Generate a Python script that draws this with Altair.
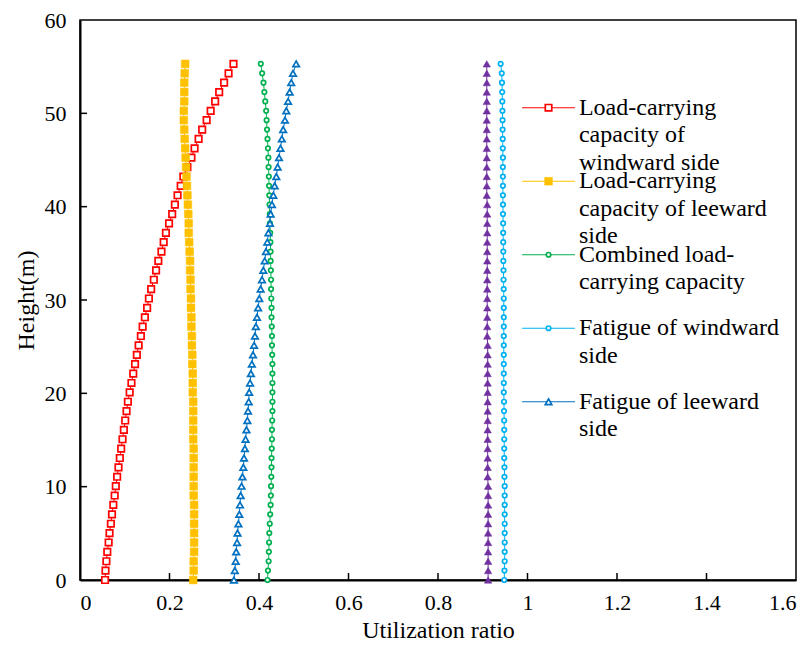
import altair as alt
import pandas as pd

# Heights of the sample points (m)
HEIGHTS = [0.0, 1.01, 2.01, 3.02, 4.02, 5.03, 6.03, 7.04, 8.04, 9.05, 10.05, 11.06, 12.07, 13.07,
           14.08, 15.08, 16.09, 17.09, 18.10, 19.10, 20.11, 21.11, 22.12, 23.13, 24.13, 25.14,
           26.14, 27.15, 28.15, 29.16, 30.16, 31.17, 32.17, 33.18, 34.19, 35.19, 36.20, 37.20,
           38.21, 39.21, 40.22, 41.22, 42.23, 43.23, 44.24, 45.25, 46.25, 47.26, 48.26, 49.27,
           50.27, 51.28, 52.28, 53.29, 54.29, 55.30]

WINDWARD_LOAD = [0.056, 0.057, 0.059, 0.061, 0.064, 0.066, 0.069, 0.0715, 0.0745, 0.0775, 0.080,
                 0.083, 0.086, 0.089, 0.092, 0.095, 0.098, 0.101, 0.104, 0.107, 0.111, 0.115,
                 0.119, 0.123, 0.127, 0.131, 0.136, 0.140, 0.145, 0.150, 0.154, 0.159, 0.165,
                 0.170, 0.175, 0.182, 0.187, 0.192, 0.199, 0.206, 0.212, 0.218, 0.225, 0.231,
                 0.240, 0.249, 0.256, 0.265, 0.273, 0.283, 0.292, 0.302, 0.311, 0.322, 0.332, 0.343]

LEEWARD_LOAD = [0.253, 0.254, 0.254, 0.255, 0.255, 0.255, 0.255, 0.255, 0.255, 0.254, 0.254,
                0.254, 0.254, 0.254, 0.254, 0.253, 0.253, 0.253, 0.253, 0.253, 0.252, 0.252,
                0.252, 0.251, 0.251, 0.250, 0.250, 0.249, 0.249, 0.248, 0.248, 0.247, 0.247,
                0.246, 0.246, 0.245, 0.244, 0.243, 0.243, 0.242, 0.241, 0.240, 0.239, 0.238,
                0.237, 0.236, 0.235, 0.234, 0.233, 0.232, 0.232, 0.233, 0.233, 0.233, 0.234, 0.235]

COMBINED_LOAD = [0.419, 0.420, 0.4215, 0.422, 0.4225, 0.423, 0.424, 0.425, 0.426, 0.4265, 0.427,
                 0.4275, 0.428, 0.428, 0.4285, 0.429, 0.429, 0.4295, 0.430, 0.430, 0.430, 0.430,
                 0.430, 0.430, 0.4295, 0.429, 0.429, 0.4285, 0.428, 0.428, 0.4275, 0.427, 0.427,
                 0.4265, 0.426, 0.426, 0.4255, 0.425, 0.4245, 0.424, 0.4235, 0.423, 0.4225, 0.422,
                 0.4215, 0.421, 0.420, 0.419, 0.418, 0.417, 0.416, 0.414, 0.412, 0.410, 0.407, 0.404]

FATIGUE_WINDWARD = [0.948, 0.9485, 0.949, 0.949, 0.949, 0.949, 0.949, 0.949, 0.949, 0.949, 0.949,
                    0.9485, 0.9485, 0.948, 0.948, 0.948, 0.948, 0.9478, 0.9475, 0.9475, 0.947,
                    0.947, 0.947, 0.947, 0.947, 0.947, 0.947, 0.947, 0.947, 0.947, 0.947, 0.9468,
                    0.9465, 0.9463, 0.946, 0.946, 0.9458, 0.9456, 0.9455, 0.9453, 0.9452, 0.945,
                    0.945, 0.945, 0.945, 0.945, 0.9448, 0.9446, 0.9444, 0.9442, 0.944, 0.9438,
                    0.9435, 0.943, 0.9425, 0.940]

FATIGUE_LEEWARD = [0.344, 0.346, 0.348, 0.349, 0.351, 0.352, 0.354, 0.356, 0.3575, 0.359, 0.361,
                   0.363, 0.365, 0.3665, 0.3685, 0.370, 0.372, 0.374, 0.3755, 0.377, 0.378, 0.380,
                   0.382, 0.384, 0.3866, 0.389, 0.391, 0.393, 0.3955, 0.398, 0.4007, 0.4037,
                   0.4067, 0.4097, 0.4127, 0.4156, 0.4186, 0.421, 0.4245, 0.426, 0.429, 0.432,
                   0.435, 0.4387, 0.4417, 0.4447, 0.448, 0.451, 0.454, 0.458, 0.461, 0.465,
                   0.4685, 0.472, 0.476, 0.483]

UNLABELLED_SERIES = [0.912, 0.912, 0.912, 0.912, 0.912, 0.912, 0.912, 0.912, 0.912, 0.912, 0.912,
                     0.911, 0.911, 0.911, 0.911, 0.911, 0.911, 0.911, 0.911, 0.911, 0.911, 0.911,
                     0.911, 0.911, 0.911, 0.911, 0.910, 0.910, 0.910, 0.910, 0.910, 0.910, 0.910,
                     0.910, 0.910, 0.910, 0.910, 0.910, 0.910, 0.910, 0.910, 0.909, 0.909, 0.909,
                     0.909, 0.909, 0.909, 0.909, 0.909, 0.909, 0.909, 0.909, 0.909, 0.909, 0.909, 0.909]

LEGEND_LABELS = [
    "Load-carrying\ncapacity of\nwindward side",
    "Load-carrying\ncapacity of leeward\nside",
    "Combined load-\ncarrying capacity",
    "Fatigue of windward\nside",
    "Fatigue of leeward\nside",
]

X_TICKS = [0.2, 0.4, 0.6, 0.8, 1.0, 1.2, 1.4]
Y_TICKS = [10, 20, 30, 40, 50]

FONT = "Liberation Serif"

# styling: (values, color, shape, hollow, size, legend index)
SERIES = [
    (WINDWARD_LOAD, "#FF0000", "square", True, 42, 0),
    (LEEWARD_LOAD, "#FFC000", "square", False, 60, 1),
    (COMBINED_LOAD, "#00B050", "circle", True, 20, 2),
    (FATIGUE_WINDWARD, "#00B0F0", "circle", True, 20, 3),
    (FATIGUE_LEEWARD, "#0070C0", "triangle-up", True, 42, 4),
    (UNLABELLED_SERIES, "#7030A0", "triangle-up", False, 55, None),
]

W, H = 716, 560


def xenc(field):
    return alt.X(f"{field}:Q", scale=alt.Scale(domain=[0, 1.6], nice=False, zero=False),
                 axis=alt.Axis(values=[0, 0.2, 0.4, 0.6, 0.8, 1.0, 1.2, 1.4, 1.6],
                               labelExpr="datum.value == 1 ? '1' : format(datum.value, '.1~f')",
                               title="Utilization ratio"))


def yenc(field):
    return alt.Y(f"{field}:Q", scale=alt.Scale(domain=[0, 60], nice=False, zero=False),
                 axis=alt.Axis(values=[0, 10, 20, 30, 40, 50, 60], title="Height(m)"))


layers = []

for values, color, shape, hollow, size, leg in SERIES:
    df = pd.DataFrame({"h": HEIGHTS, "v": values})
    base = alt.Chart(df)
    layers.append(base.mark_line(color=color, strokeWidth=1).encode(
        x=xenc("v"), y=yenc("h"), order=alt.Order("h:Q")))
    layers.append(base.mark_point(shape=shape, filled=True,
                                  fill="white" if hollow else color, stroke=color,
                                  strokeWidth=1.7 if hollow else 0.5, size=size,
                                  opacity=1).encode(x=xenc("v"), y=yenc("h")))
    if leg is not None:
        ly = 50.6 - leg * 7.875
        ldf = pd.DataFrame({"x1": [0.988], "x2": [1.106], "xm": [1.047], "xt": [1.115],
                            "y": [ly], "label": [LEGEND_LABELS[leg]]})
        lb = alt.Chart(ldf)
        layers.append(lb.mark_rule(color=color, strokeWidth=1.2).encode(
            x=xenc("x1"), x2="x2:Q", y=yenc("y")))
        layers.append(lb.mark_point(shape=shape, filled=True,
                                    fill="white" if hollow else color, stroke=color,
                                    strokeWidth=1.7 if hollow else 0.5, size=size,
                                    opacity=1).encode(x=xenc("xm"), y=yenc("y")))
        layers.append(lb.mark_text(align="left", baseline="top", font=FONT, fontSize=24,
                                   lineBreak="\n", lineHeight=27.5, dy=-12,
                                   color="black").encode(
            x=xenc("xt"), y=yenc("y"), text="label:N"))

# inward tick marks
xt = pd.DataFrame({"t": X_TICKS})
layers.append(alt.Chart(xt).mark_rule(color="black", strokeWidth=1.5).encode(
    x=xenc("t"), y=alt.value(H), y2=alt.value(H - 7)))
yt = pd.DataFrame({"t": Y_TICKS})
layers.append(alt.Chart(yt).mark_rule(color="black", strokeWidth=1.5).encode(
    y=yenc("t"), x=alt.value(0), x2=alt.value(7)))

chart = alt.layer(*layers).properties(
    width=W, height=H,
    autosize=alt.AutoSizeParams(type="none"),
    padding={"left": 72, "top": 12, "right": 7, "bottom": 67},
).configure_view(
    stroke="black", strokeWidth=1.5
).configure_axis(
    grid=False, ticks=False, domain=True, domainColor="black", domainWidth=2,
    labelFont=FONT, labelFontSize=22, labelColor="black",
    titleFont=FONT, titleFontSize=24, titleFontWeight="normal", titleColor="black",
).configure_axisX(
    labelPadding=12, titlePadding=5
).configure_axisY(
    labelPadding=14, titlePadding=6
)

chart.save("out.html", embed_options={"renderer": "svg", "actions": False})
